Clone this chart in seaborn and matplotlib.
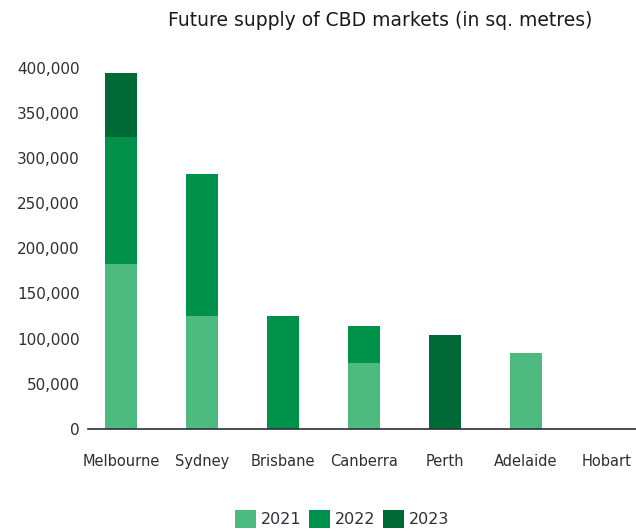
import matplotlib
matplotlib.use("Agg")
import matplotlib.pyplot as plt
from matplotlib.patches import Patch
from matplotlib.ticker import FuncFormatter
import seaborn as sns
import pandas as pd
import numpy as np

cities = ["Melbourne", "Sydney", "Brisbane", "Canberra", "Perth", "Adelaide", "Hobart"]
supply_2021 = [183000, 125000, 0, 72500, 0, 84000, 0]
supply_2022 = [140000, 157000, 125000, 41000, 0, 0, 0]
supply_2023 = [71000, 0, 0, 0, 104000, 0, 0]
years = ["2021", "2022", "2023"]
colors = ["#4dbb7f", "#00924a", "#006a37"]

sns.set_theme(style="white")
plt.rcParams["font.family"] = ["DejaVu Sans"]

df = pd.DataFrame({"city": cities, "2021": supply_2021, "2022": supply_2022, "2023": supply_2023})
df["c2021"] = df["2021"]
df["c2022"] = df["c2021"] + df["2022"]
df["c2023"] = df["c2022"] + df["2023"]

fig = plt.figure(figsize=(6.36, 5.31), dpi=100)
ax = fig.add_axes([88 / 636, 1 - 429 / 531, 1 - 88 / 636, (429 - 67.5) / 531])

# stacked bars: draw cumulative totals from the top layer down
for col, color in zip(["c2023", "c2022", "c2021"], colors[::-1]):
    sns.barplot(data=df, x="city", y=col, color=color, width=0.4,
                saturation=1, ax=ax, linewidth=0)

ax.set_ylim(0, 400000)
ax.set_xlim(-0.41, 6.36)
ax.set_yticks(np.arange(0, 400001, 50000))
ax.yaxis.set_major_formatter(FuncFormatter(lambda v, p: f"{int(v):,}"))
ax.set_xlabel("")
ax.set_ylabel("")
for s in ["top", "right", "left"]:
    ax.spines[s].set_visible(False)
ax.spines["bottom"].set_color("#2e2e38")
ax.spines["bottom"].set_linewidth(1.2)
ax.tick_params(axis="y", length=0, pad=6, labelsize=11, labelcolor="#2e2e38")
ax.tick_params(axis="x", length=0, pad=18, labelsize=10.5, labelcolor="#2e2e38")

fig.text(380 / 636, 1 - 20 / 531, "Future supply of CBD markets (in sq. metres)",
         ha="center", va="center", fontsize=13.5, color="#1a1a1a")

handles = [Patch(facecolor=c, edgecolor="none", label=y) for c, y in zip(colors, years)]
fig.legend(handles=handles, loc="center", bbox_to_anchor=(342 / 636, 1 - 519 / 531),
           ncol=3, frameon=False, fontsize=11.5, handlelength=1.3, handleheight=1.3,
           handletextpad=0.3, columnspacing=0.5, labelcolor="#2e2e38")

fig.savefig("out.png", dpi=100)
